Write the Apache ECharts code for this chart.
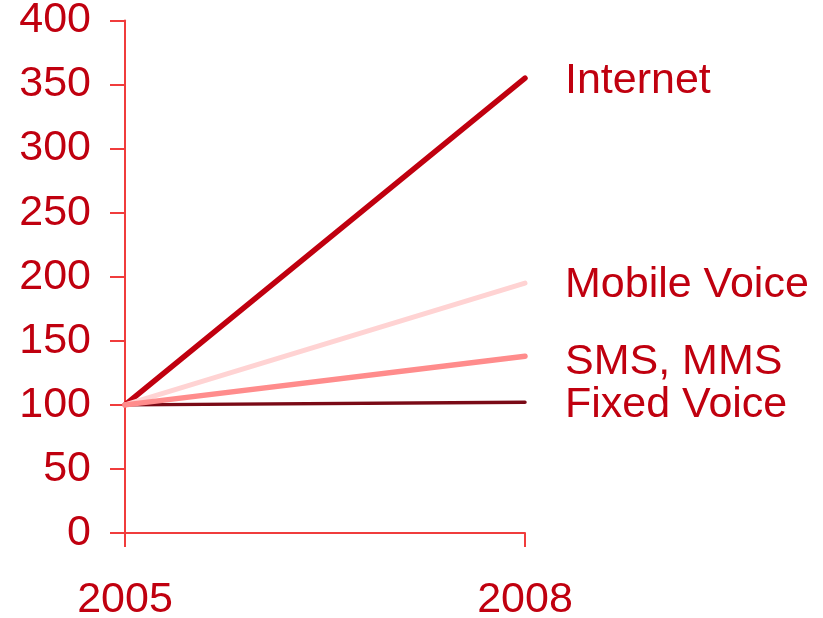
<!DOCTYPE html>
<html><head><meta charset="utf-8">
<script src="https://cdn.jsdelivr.net/npm/echarts@6/dist/echarts.min.js"></script>
<style>html,body{margin:0;padding:0;background:#fff}#c{width:823px;height:618px}</style>
</head><body><div id="c"></div>
<script>
const years = ['2005', '2008'];
const seriesNames = ['Internet', 'Fixed Voice', 'Mobile Voice', 'SMS, MMS'];
const internet = [100, 355];
const fixedVoice = [100, 102];
const mobileVoice = [100, 195];
const smsMms = [100, 138];
const yTicks = [0, 50, 100, 150, 200, 250, 300, 350, 400];

const FONT = '"Liberation Sans", Arial, sans-serif';
const TXT = '#C0000F';
const AX = '#F03C3C';

function mk(name, data, color, width, offY) {
  return {
    name, type: 'line', data, symbol: 'none', silent: true,
    lineStyle: { color, width, cap: 'round' },
    endLabel: { show: true, formatter: name, color: TXT, fontFamily: FONT, fontSize: 43,
      distance: 40, offset: [0, offY] }
  };
}

const chart = echarts.init(document.getElementById('c'), null, { renderer: 'canvas' });
chart.setOption({
  animation: false,
  backgroundColor: '#fff',
  grid: { left: 125, right: 298, top: 20.5, bottom: 85, containLabel: false, outerBoundsMode: 'none' },
  xAxis: {
    type: 'category', data: years, boundaryGap: false,
    axisLine: { lineStyle: { color: AX, width: 2 } },
    axisTick: { show: true, length: 14, lineStyle: { color: AX, width: 2 } },
    axisLabel: { color: TXT, fontFamily: FONT, fontSize: 43, margin: 46 },
    splitLine: { show: false }
  },
  yAxis: {
    type: 'value', min: yTicks[0], max: yTicks[yTicks.length - 1], interval: 50,
    axisLine: { show: true, lineStyle: { color: AX, width: 2 } },
    axisTick: { show: true, length: 15, lineStyle: { color: AX, width: 2 } },
    axisLabel: { color: TXT, fontFamily: FONT, fontSize: 43, margin: 34, padding: [7, 0, 0, 0] },
    splitLine: { show: false }
  },
  series: [
    mk(seriesNames[0], internet, '#C0000F', 5.5, 3),
    mk(seriesNames[1], fixedVoice, '#7A0A16', 3.5, 3),
    mk(seriesNames[2], mobileVoice, '#FFD3D3', 5, 2),
    mk(seriesNames[3], smsMms, '#FF8C8C', 5.5, 6)
  ]
});
</script></body></html>
